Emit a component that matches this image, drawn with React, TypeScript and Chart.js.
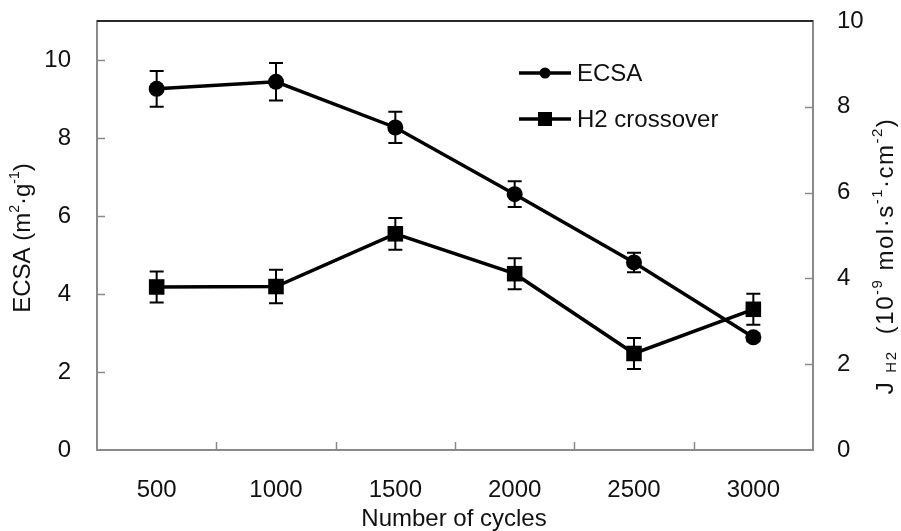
import React, { useEffect, useRef } from 'react';
import { Chart, registerables } from 'chart.js';

Chart.register(...registerables);

const cycles = ['500', '1000', '1500', '2000', '2500', '3000'];
const ecsa = [9.26, 9.44, 8.27, 6.56, 4.81, 2.89];
const ecsaErr = [0.46, 0.48, 0.4, 0.33, 0.25, 0.1];
const h2 = [3.8, 3.81, 5.04, 4.11, 2.25, 3.28];
const h2Err = [0.36, 0.39, 0.37, 0.36, 0.36, 0.36];
const leftTicks = [0, 2, 4, 6, 8, 10];
const rightTicks = [0, 2, 4, 6, 8, 10];

const FONT = '"Liberation Sans", Arial, sans-serif';
const TXT = '#111111';
const AXIS_GRAY = '#8a8a8a';
const CLEAR = 'rgba(0,0,0,0)';

type Seg = { t: string; size: number; dy?: number; w?: number };

function drawRich(
  ctx: CanvasRenderingContext2D,
  segs: Seg[],
  cx: number,
  cy: number,
  rot: number,
  spacing = 0
) {
  ctx.save();
  ctx.translate(cx, cy);
  ctx.rotate(rot);
  (ctx as any).letterSpacing = `${spacing}px`;
  let total = 0;
  for (const s of segs) {
    ctx.font = `${s.size}px ${FONT}`;
    s.w = ctx.measureText(s.t).width;
    total += s.w;
  }
  let x = -total / 2;
  ctx.textBaseline = 'middle';
  ctx.textAlign = 'left';
  ctx.fillStyle = TXT;
  for (const s of segs) {
    ctx.font = `${s.size}px ${FONT}`;
    ctx.fillText(s.t, x, s.dy || 0);
    x += s.w || 0;
  }
  ctx.restore();
}

const decorPlugin = {
  id: 'decor',
  afterDatasetsDraw(chart: any) {
    const ctx: CanvasRenderingContext2D = chart.ctx;
    const xs = chart.scales.x;
    const yl = chart.scales.y;
    const yr = chart.scales.y1;
    const draw = (vals: number[], errs: number[], sc: any) => {
      ctx.save();
      ctx.strokeStyle = '#000';
      ctx.lineWidth = 2;
      vals.forEach((v, i) => {
        const x = xs.getPixelForValue(i);
        const yTop = sc.getPixelForValue(v + errs[i]);
        const yBot = sc.getPixelForValue(v - errs[i]);
        ctx.beginPath();
        ctx.moveTo(x, yTop);
        ctx.lineTo(x, yBot);
        ctx.moveTo(x - 7, yTop);
        ctx.lineTo(x + 7, yTop);
        ctx.moveTo(x - 7, yBot);
        ctx.lineTo(x + 7, yBot);
        ctx.stroke();
      });
      ctx.restore();
    };
    draw(ecsa, ecsaErr, yl);
    draw(h2, h2Err, yr);
  },
  afterDraw(chart: any) {
    const ctx: CanvasRenderingContext2D = chart.ctx;
    const a = chart.chartArea;
    const xs = chart.scales.x;
    const yl = chart.scales.y;
    const yr = chart.scales.y1;
    ctx.save();
    // inward tick marks
    ctx.strokeStyle = AXIS_GRAY;
    ctx.lineWidth = 1.5;
    ctx.beginPath();
    leftTicks.forEach((v) => {
      if (v === 0) return;
      const y = Math.round(yl.getPixelForValue(v)) + 0.5;
      ctx.moveTo(a.left, y);
      ctx.lineTo(a.left + 8, y);
    });
    rightTicks.forEach((v) => {
      if (v === 0 || v === 10) return;
      const y = Math.round(yr.getPixelForValue(v)) + 0.5;
      ctx.moveTo(a.right, y);
      ctx.lineTo(a.right - 8, y);
    });
    for (let i = 1; i < cycles.length; i++) {
      const x = Math.round((xs.getPixelForValue(i - 1) + xs.getPixelForValue(i)) / 2) + 0.5;
      ctx.moveTo(x, a.bottom);
      ctx.lineTo(x, a.bottom - 8);
    }
    ctx.stroke();
    // top border
    ctx.strokeStyle = '#2a2a2a';
    ctx.lineWidth = 2;
    ctx.beginPath();
    ctx.moveTo(a.left, a.top);
    ctx.lineTo(a.right, a.top);
    ctx.stroke();

    // legend
    const lx0 = 519;
    const lx1 = 571;
    const rows = [
      { y: 73, label: 'ECSA', style: 'circle' },
      { y: 119, label: 'H2 crossover', style: 'rect' },
    ];
    rows.forEach((r) => {
      ctx.strokeStyle = '#000';
      ctx.lineWidth = 3.5;
      ctx.beginPath();
      ctx.moveTo(lx0, r.y);
      ctx.lineTo(lx1, r.y);
      ctx.stroke();
      ctx.fillStyle = '#000';
      const cx = (lx0 + lx1) / 2;
      if (r.style === 'circle') {
        ctx.beginPath();
        ctx.arc(cx, r.y, 5.5, 0, Math.PI * 2);
        ctx.fill();
      } else {
        ctx.fillRect(cx - 7, r.y - 7, 14, 14);
      }
      ctx.fillStyle = TXT;
      ctx.font = `24px ${FONT}`;
      ctx.textAlign = 'left';
      ctx.textBaseline = 'middle';
      ctx.fillText(r.label, 577, r.y + 1);
    });

    // axis titles
    drawRich(
      ctx,
      [
        { t: 'ECSA (m', size: 24 },
        { t: '2', size: 14, dy: -8 },
        { t: '·g', size: 24 },
        { t: '-1', size: 14, dy: -8 },
        { t: ')', size: 24 },
      ],
      23,
      238,
      -Math.PI / 2
    );
    drawRich(
      ctx,
      [
        { t: 'J ', size: 24 },
        { t: 'H2', size: 15, dy: 6 },
        { t: '  (10', size: 24 },
        { t: '-9', size: 15, dy: -8 },
        { t: ' mol·s', size: 24 },
        { t: '-1', size: 15, dy: -8 },
        { t: '·cm', size: 24 },
        { t: '-2', size: 15, dy: -8 },
        { t: ')', size: 24 },
      ],
      886,
      256,
      -Math.PI / 2,
      1.5
    );
    drawRich(ctx, [{ t: 'Number of cycles', size: 24 }], 454, 519, 0);
    ctx.restore();
  },
};

export default function App() {
  const ref = useRef<HTMLCanvasElement | null>(null);
  useEffect(() => {
    if (!ref.current) return;
    const tickFont = { family: FONT, size: 24 };
    const hiddenGrid = (len: number) => ({
      display: true,
      drawOnChartArea: false,
      drawTicks: true,
      tickLength: len,
      tickColor: CLEAR,
      color: CLEAR,
    });
    const chart = new Chart(ref.current, {
      type: 'line',
      data: {
        labels: cycles,
        datasets: [
          {
            label: 'ECSA',
            data: ecsa,
            yAxisID: 'y',
            borderColor: '#000',
            backgroundColor: '#000',
            borderWidth: 3.5,
            pointStyle: 'circle',
            pointRadius: 8,
            pointBorderWidth: 0,
            pointBackgroundColor: '#000',
            tension: 0,
          },
          {
            label: 'H2 crossover',
            data: h2,
            yAxisID: 'y1',
            borderColor: '#000',
            backgroundColor: '#000',
            borderWidth: 3.5,
            pointStyle: 'rect',
            pointRadius: 11,
            pointBorderWidth: 0,
            pointBackgroundColor: '#000',
            tension: 0,
          },
        ],
      },
      options: {
        responsive: false,
        animation: false,
        devicePixelRatio: 1,
        layout: { padding: { top: 21, left: 0, right: 0, bottom: 0 } },
        plugins: {
          legend: { display: false },
          tooltip: { enabled: false },
        },
        scales: {
          x: {
            type: 'category',
            offset: true,
            grid: { ...hiddenGrid(26), offset: true },
            border: { display: true, color: AXIS_GRAY, width: 2 },
            ticks: { font: tickFont, color: TXT, padding: 0 },
            afterFit: (s: any) => {
              s.height = 81;
            },
          },
          y: {
            type: 'linear',
            position: 'left',
            min: 0,
            max: 11,
            afterBuildTicks: (s: any) => {
              s.ticks = leftTicks.map((v) => ({ value: v }));
            },
            grid: hiddenGrid(26),
            border: { display: true, color: AXIS_GRAY, width: 2 },
            ticks: { font: tickFont, color: TXT, padding: 0 },
            afterFit: (s: any) => {
              s.width = 97;
            },
          },
          y1: {
            type: 'linear',
            position: 'right',
            min: 0,
            max: 10,
            afterBuildTicks: (s: any) => {
              s.ticks = rightTicks.map((v) => ({ value: v }));
            },
            grid: hiddenGrid(24),
            border: { display: true, color: AXIS_GRAY, width: 2 },
            ticks: { font: tickFont, color: TXT, padding: 0 },
            afterFit: (s: any) => {
              s.width = 88;
            },
          },
        },
      },
      plugins: [decorPlugin],
    } as any);
    return () => chart.destroy();
  }, []);
  return (
    <div style={{ position: 'absolute', left: 0, top: 0, width: 901, height: 531, background: '#fff' }}>
      <canvas ref={ref} width={901} height={531} />
    </div>
  );
}
